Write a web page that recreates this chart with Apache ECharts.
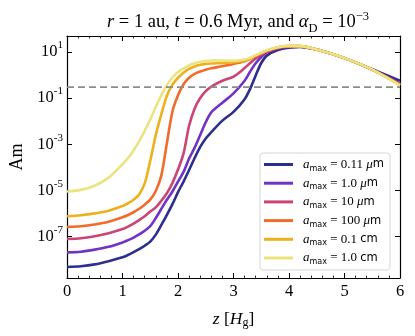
<!DOCTYPE html>
<html>
<head>
<meta charset="utf-8">
<script src="https://cdn.jsdelivr.net/npm/echarts@6/dist/echarts.min.js"></script>
<style>
  html, body { margin: 0; padding: 0; background: #fff; }
  #chart { width: 415px; height: 336px; }
</style>
</head>
<body>
<div id="chart"></div>
<script>
// z [H_g]
const zGrid = [0, 0.25, 0.5, 0.75, 1.0, 1.1, 1.2, 1.3, 1.4, 1.5, 1.6, 1.7, 1.8, 1.9, 2.0, 2.1, 2.2, 2.3, 2.4, 2.5, 2.6, 2.8, 3.0, 3.2, 3.3, 3.4, 3.5, 3.6, 3.8, 4.0, 4.2, 4.5, 5.0, 5.5, 6.0]

// log10(Am), one array per a_max
const logAm011um = [-8.32, -8.29, -8.21, -8.07, -7.90, -7.80, -7.68, -7.55, -7.40, -7.22, -6.92, -6.50, -6.06, -5.60, -5.08, -4.62, -4.12, -3.60, -3.12, -2.75, -2.48, -1.98, -1.60, -1.05, -0.60, -0.02, 0.52, 0.84, 1.08, 1.18, 1.22, 1.10, 0.73, 0.25, -0.25]
const logAm1um = [-7.69, -7.66, -7.57, -7.45, -7.26, -7.16, -7.05, -6.91, -6.75, -6.55, -6.20, -5.80, -5.41, -5.05, -4.62, -4.20, -3.62, -3.15, -2.60, -2.05, -1.62, -1.20, -0.80, -0.25, 0.15, 0.51, 0.78, 0.98, 1.15, 1.22, 1.23, 1.10, 0.73, 0.23, -0.36]
const logAm10um = [-7.11, -7.08, -6.99, -6.86, -6.68, -6.57, -6.44, -6.29, -6.12, -5.92, -5.74, -5.45, -5.12, -4.68, -4.10, -3.40, -2.20, -1.45, -1.00, -0.70, -0.50, -0.25, -0.07, 0.30, 0.52, 0.72, 0.88, 1.00, 1.17, 1.24, 1.24, 1.10, 0.73, 0.23, -0.40]
const logAm100um = [-6.59, -6.56, -6.48, -6.36, -6.17, -6.07, -5.95, -5.80, -5.62, -5.40, -5.03, -4.35, -2.95, -1.58, -0.88, -0.40, -0.12, 0.05, 0.15, 0.23, 0.29, 0.38, 0.48, 0.60, 0.70, 0.83, 0.94, 1.04, 1.19, 1.25, 1.25, 1.10, 0.73, 0.23, -0.42]
const logAm01cm = [-6.12, -6.08, -6.00, -5.88, -5.68, -5.56, -5.41, -5.18, -4.70, -3.72, -2.60, -1.70, -0.90, -0.42, -0.12, 0.10, 0.26, 0.37, 0.44, 0.48, 0.50, 0.52, 0.55, 0.62, 0.72, 0.84, 0.95, 1.06, 1.20, 1.25, 1.25, 1.10, 0.73, 0.23, -0.44]
const logAm1cm = [-5.05, -4.98, -4.80, -4.45, -3.87, -3.60, -3.27, -2.87, -2.42, -1.93, -1.38, -0.87, -0.44, -0.11, 0.13, 0.28, 0.42, 0.51, 0.57, 0.61, 0.63, 0.63, 0.61, 0.67, 0.75, 0.86, 0.97, 1.07, 1.20, 1.26, 1.25, 1.10, 0.73, 0.23, -0.45]

const seriesValues = [logAm011um, logAm1um, logAm10um, logAm100um, logAm01cm, logAm1cm]
const sizeLabels = ['0.11 μm', '1.0 μm', '10 μm', '100 μm', '0.1 cm', '1.0 cm']
const lineColors = ['#2d2f8e', '#7033c3', '#cc4473', '#f26b2a', '#eeb11c', '#ebe47e']

const thresholdAm = 0.3
const yTickExponents = [-7, -5, -3, -1, 1]

const serif = 'Liberation Serif'
const sans = 'DejaVu Sans'

const chart = echarts.init(document.getElementById('chart'))

const series = seriesValues.map((vals, i) => ({
  name: sizeLabels[i],
  type: 'line',
  xAxisIndex: 0,
  yAxisIndex: 0,
  data: zGrid.map((z, j) => [z, vals[j]]),
  smooth: 0.3,
  showSymbol: false,
  symbol: 'none',
  lineStyle: { width: 2.6, color: lineColors[i] },
  itemStyle: { color: lineColors[i] },
  z: 2 + i
}))

//阈值虚线
series.push({
  type: 'line',
  data: [[0, Math.log10(thresholdAm)], [6, Math.log10(thresholdAm)]],
  showSymbol: false,
  symbol: 'none',
  lineStyle: { width: 1.8, color: '#8c8c8c', type: [7, 4] },
  silent: true,
  z: 10
})

const axisLineStyle = { onZero: false, lineStyle: { color: '#000', width: 1.2 } }
const xTickCommon = {
  type: 'value',
  min: 0,
  max: 6,
  interval: 1,
  axisLine: axisLineStyle,
  axisTick: { inside: true, length: 5, lineStyle: { color: '#000', width: 1 } },
  minorTick: { show: true, splitNumber: 5, length: 2.5, lineStyle: { color: '#000', width: 0.8 } },
  splitLine: { show: false }
}
const yCommon = {
  type: 'value',
  min: -8.8,
  max: 1.69,
  axisLine: axisLineStyle,
  axisTick: { inside: true, length: 5, customValues: yTickExponents, lineStyle: { color: '#000', width: 1 } },
  splitLine: { show: false }
}

chart.setOption({
  animation: false,
  title: {
    text: '{i|r}{t| = 1 au, }{i|t}{t| = 0.6 Myr, and }{i|α}{sub|D}{t| = 10}{sup|−3}',
    left: 233,
    top: 5,
    textAlign: 'center',
    textStyle: {
      fontWeight: 'normal',
      rich: {
        t: { fontFamily: serif, fontSize: 18.5, fontWeight: 'normal', color: '#000', lineHeight: 25 },
        i: { fontFamily: serif, fontSize: 18.5, fontWeight: 'normal', fontStyle: 'italic', color: '#000', lineHeight: 25 },
        sub: { fontFamily: serif, fontSize: 12.5, fontWeight: 'normal', color: '#000', verticalAlign: 'bottom' },
        sup: { fontFamily: serif, fontSize: 12.5, fontWeight: 'normal', color: '#000', verticalAlign: 'top' }
      }
    }
  },
  grid: { left: 67, right: 15, top: 36, bottom: 58 },
  legend: {
    orient: 'vertical',
    left: 260,
    top: 153,
    padding: [5, 6, 4, 4],
    itemGap: 4.2,
    itemWidth: 29,
    itemHeight: 3,
    icon: 'rect',
    backgroundColor: '#fff',
    borderColor: '#d6d6d6',
    borderWidth: 1,
    borderRadius: 3,
    data: sizeLabels,
    formatter: name => {
      const [v, u] = name.split(' ')
      const unit = u === 'μm' ? '{mu|μ}{u|m}' : '{u|cm}'
      return '{a|a}{sub|max}{t| = ' + v + ' }' + unit
    },
    textStyle: {
      rich: {
        a: { fontFamily: serif, fontSize: 13, fontStyle: 'italic', color: '#000', lineHeight: 16, padding: [0, 0, 0, 5] },
        sub: { fontFamily: sans, fontSize: 8, color: '#000', verticalAlign: 'bottom' },
        t: { fontFamily: serif, fontSize: 13, color: '#000', lineHeight: 16 },
        mu: { fontFamily: serif, fontSize: 13, fontStyle: 'italic', color: '#000', lineHeight: 16 },
        u: { fontFamily: sans, fontSize: 11.5, color: '#000', lineHeight: 16 }
      }
    }
  },
  xAxis: [
    Object.assign({}, xTickCommon, {
      position: 'bottom',
      name: '{i|z}{t| [}{i|H}{sub|g}{t|]}',
      nameLocation: 'middle',
      nameGap: 31,
      nameTextStyle: {
        rich: {
          t: { fontFamily: serif, fontSize: 17.5, color: '#000', lineHeight: 20 },
          i: { fontFamily: serif, fontSize: 17.5, fontStyle: 'italic', color: '#000', lineHeight: 20 },
          sub: { fontFamily: serif, fontSize: 12, color: '#000', verticalAlign: 'bottom' }
        }
      },
      axisLabel: { fontFamily: serif, fontSize: 16.5, color: '#000', margin: 5 }
    }),
    Object.assign({}, xTickCommon, {
      position: 'top',
      axisLabel: { show: false }
    })
  ],
  yAxis: [
    Object.assign({}, yCommon, {
      position: 'left',
      name: 'Am',
      nameLocation: 'middle',
      nameGap: 40,
      nameTextStyle: { fontFamily: serif, fontSize: 18, color: '#000' },
      axisLabel: {
        customValues: yTickExponents,
        margin: 4,
        formatter: v => '{b|10}{e|' + v + '}',
        rich: {
          b: { fontFamily: serif, fontSize: 16.5, color: '#000', lineHeight: 24 },
          e: { fontFamily: serif, fontSize: 11, color: '#000', verticalAlign: 'top' }
        }
      }
    }),
    Object.assign({}, yCommon, {
      position: 'right',
      axisLabel: { show: false }
    })
  ],
  series: series
})
</script>
</body>
</html>
